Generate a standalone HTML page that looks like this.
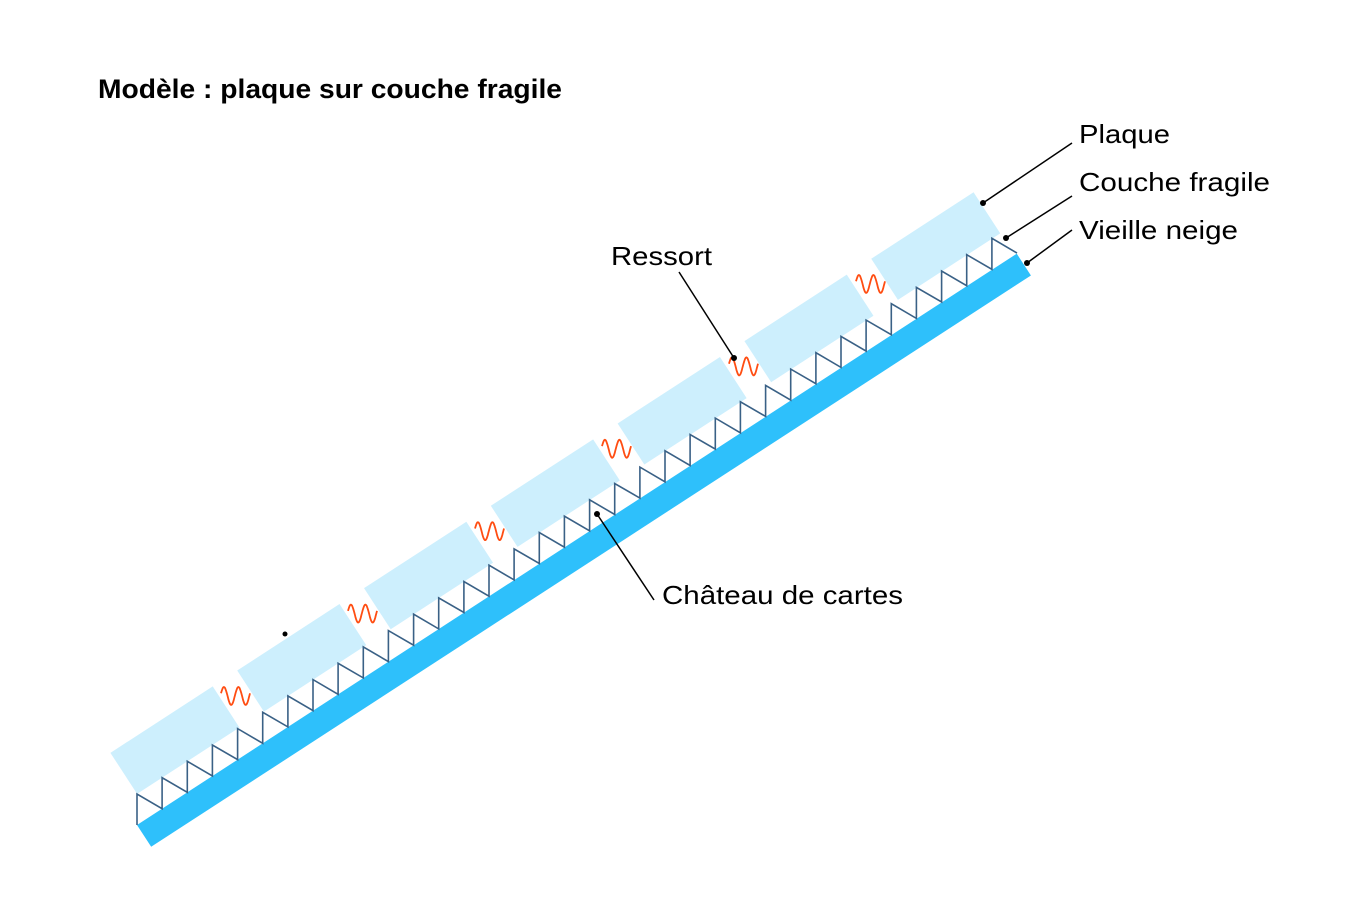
<!DOCTYPE html>
<html><head><meta charset="utf-8"><style>
html,body{margin:0;padding:0;background:#fff;}
svg{display:block;}
text{font-family:"Liberation Sans",sans-serif;fill:#000;}
</style></head><body>
<svg id="s" width="1371" height="900" viewBox="0 0 1371 900" xmlns="http://www.w3.org/2000/svg">
<text x="98" y="98" font-size="27" font-weight="bold" textLength="464" lengthAdjust="spacingAndGlyphs">Modèle : plaque sur couche fragile</text>
<g transform="translate(137,825) rotate(-33)">
<rect x="0" y="0" width="1049" height="26" fill="#2ec0fb"/>
<g fill="#cdeffd">
<rect x="17" y="-75" width="122" height="49"/>
<rect x="168.2" y="-75" width="122" height="49"/>
<rect x="319.4" y="-75" width="122" height="49"/>
<rect x="470.6" y="-75" width="122" height="49"/>
<rect x="621.8" y="-75" width="122" height="49"/>
<rect x="773" y="-75" width="122" height="49"/>
<rect x="924.2" y="-75" width="122" height="49"/>
</g>
</g>
<polyline id="teeth" fill="none" stroke="#3a6186" stroke-width="1.6" points=""/>
<g id="springs" fill="none" stroke="#ff4d12" stroke-width="1.8"></g>
<g stroke="#000" stroke-width="1.5" fill="none">
<line x1="983" y1="203" x2="1072" y2="143"/>
<line x1="1006" y1="238" x2="1072" y2="196"/>
<line x1="1027" y1="263" x2="1072" y2="230"/>
<line x1="679" y1="272" x2="734" y2="358"/>
<line x1="597" y1="514" x2="654" y2="600"/>
</g>
<g fill="#000">
<circle cx="983" cy="203" r="3"/>
<circle cx="1006" cy="238" r="3"/>
<circle cx="1027" cy="263" r="3"/>
<circle cx="734" cy="358" r="3"/>
<circle cx="597" cy="514" r="3"/>
<circle cx="285" cy="634" r="2.5"/>
</g>
<g font-size="26">
<text x="1079" y="143" textLength="91" lengthAdjust="spacingAndGlyphs">Plaque</text>
<text x="1079" y="191" textLength="191" lengthAdjust="spacingAndGlyphs">Couche fragile</text>
<text x="1079" y="239" textLength="159" lengthAdjust="spacingAndGlyphs">Vieille neige</text>
<text x="611" y="265" textLength="101" lengthAdjust="spacingAndGlyphs">Ressort</text>
<text x="662" y="604" textLength="241" lengthAdjust="spacingAndGlyphs">Château de cartes</text>
</g>
</svg>
<script>
var pts=[];
for(var i=0;i<=35;i++){var x=137+880*i/35,y=825-572*i/35;pts.push(x.toFixed(1)+","+y.toFixed(1));if(i<35)pts.push(x.toFixed(1)+","+(y-31).toFixed(1));}
document.getElementById("teeth").setAttribute("points",pts.join(" "));
var g=document.getElementById("springs"),ns="http://www.w3.org/2000/svg";
for(var k=0;k<6;k++){var cx=235+127*k,cy=696-82.4*k,d="";
for(var t=0;t<=50;t++){var x=cx-14+29*t/50,y=cy-9*Math.sin(t/50*2*2*Math.PI+0.3);d+=(t?"L":"M")+x.toFixed(1)+" "+y.toFixed(1);}
var p=document.createElementNS(ns,"path");p.setAttribute("d",d);g.appendChild(p);}
</script>
</body></html>
